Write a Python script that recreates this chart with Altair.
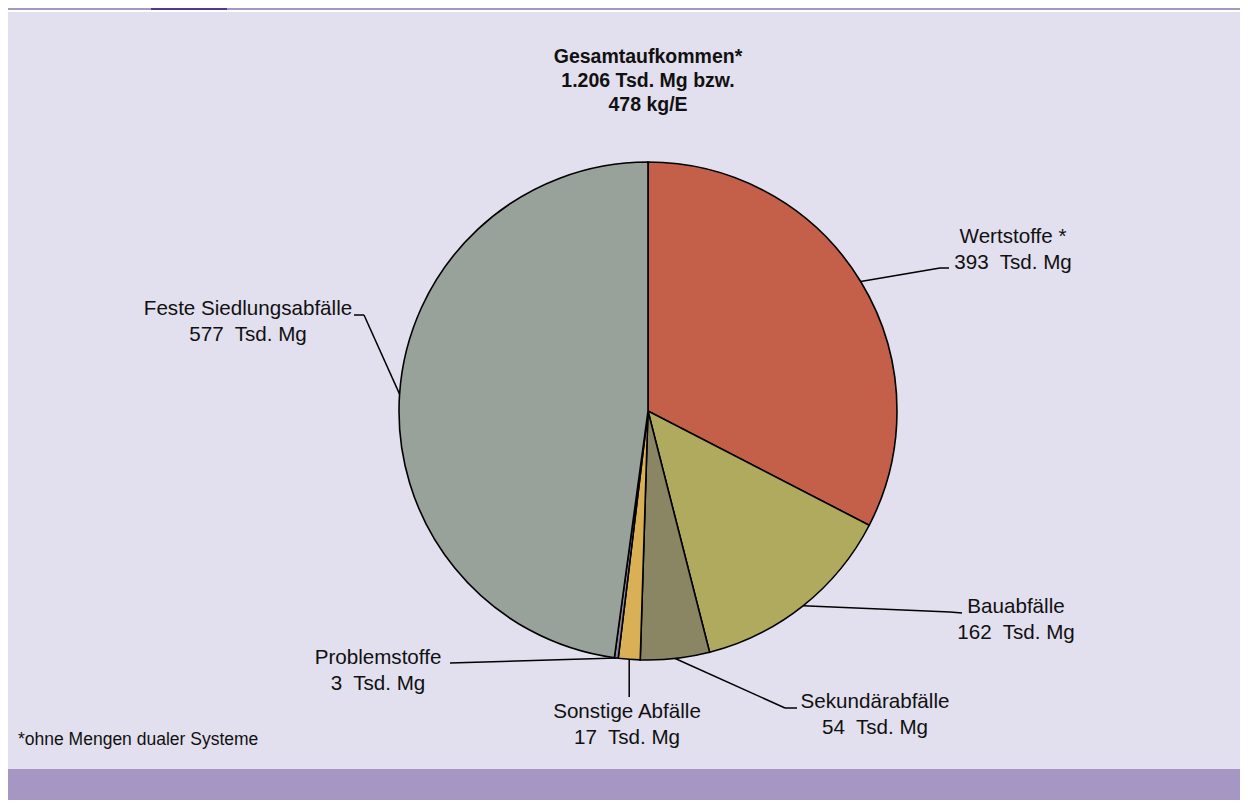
import altair as alt
import pandas as pd

# ---- data ----
categories = ["Wertstoffe *", "Bauabfälle", "Sekundärabfälle", "Sonstige Abfälle",
              "Problemstoffe", "Feste Siedlungsabfälle"]
values = [393, 162, 54, 17, 3, 577]
unit = "Tsd. Mg"
title_lines = ["Gesamtaufkommen*", "1.206 Tsd. Mg bzw.", "478 kg/E"]
footnote = "*ohne Mengen dualer Systeme"

# ---- styles / layout (chart pixel coordinates) ----
colors = ["#c4604a", "#b0aa5e", "#8a8562", "#d9b055", "#8e879f", "#98a29b"]
W, H = 1232, 792
CX, CY, R = 640, 403, 249
# leader elbow / end and label anchor (first-line baseline), per category
elbow_x = [932, 942, 777, None, 442, 356]
elbow_y = [260, 604, 700, 689, 655, 307]
end_x = [941, 954, 789, None, 442, 346]
end_y = [260, 605, 700, 689, 655, 307]
label_x = [1005, 1008, 867, 619, 370, 240]
label_y = [235, 605, 700, 710, 656, 307]
FONT = "Liberation Sans"
BG = "#e2dfee"
BAR = "#a696c3"

df = pd.DataFrame({
    "idx": list(range(len(categories))),
    "cat": categories,
    "value": values,
    "label": [f"{c}\n{v}\u00a0 {unit}" for c, v in zip(categories, values)],
    "ex": elbow_x, "ey": elbow_y, "tx": end_x, "ty": end_y,
    "lx": label_x, "ly": label_y,
})

base = alt.Chart(df).transform_joinaggregate(
    total="sum(value)"
).transform_window(
    cum="sum(value)", sort=[alt.SortField("idx", order="ascending")], frame=[None, 0]
).transform_calculate(
    mid="2*PI*(datum.cum - datum.value/2)/datum.total",
    ax=f"{CX} + {R}*sin(datum.mid)",
    ay=f"{CY} - {R}*cos(datum.mid)",
).transform_calculate(
    ex2="isValid(datum.ex) ? datum.ex : datum.ax",
    tx2="isValid(datum.tx) ? datum.tx : datum.ax",
)

pie = alt.Chart(df).mark_arc(radius=R, stroke="#000000", strokeWidth=1.6).encode(
    theta=alt.Theta("value:Q", stack=True),
    order=alt.Order("idx:Q", sort="ascending"),
    color=alt.Color("cat:N", scale=alt.Scale(domain=categories, range=colors), legend=None),
    x=alt.value(CX),
    y=alt.value(CY),
)

leader1 = base.mark_rule(color="#000000", strokeWidth=1.5).encode(
    x=alt.X("ax:Q", scale=None, axis=None),
    y=alt.Y("ay:Q", scale=None, axis=None),
    x2="ex2:Q",
    y2="ey:Q",
)
leader2 = base.mark_rule(color="#000000", strokeWidth=1.5).encode(
    x=alt.X("ex2:Q", scale=None, axis=None),
    y=alt.Y("ey:Q", scale=None, axis=None),
    x2="tx2:Q",
    y2="ty:Q",
)

labels = base.mark_text(
    font=FONT, fontSize=20.6, color="#111111", align="center", baseline="alphabetic",
    lineBreak="\n", lineHeight=25.5,
).encode(
    x=alt.X("lx:Q", scale=None, axis=None),
    y=alt.Y("ly:Q", scale=None, axis=None),
    text="label:N",
)

one = alt.Data(values=[{}])
title = alt.Chart(one).mark_text(
    font=FONT, fontSize=19.5, fontWeight="bold", color="#111111", align="center",
    baseline="alphabetic", lineHeight=24,
).encode(x=alt.value(CX), y=alt.value(55), text=alt.value(title_lines))

foot = alt.Chart(one).mark_text(
    font=FONT, fontSize=17.5, color="#111111", align="left", baseline="alphabetic",
).encode(x=alt.value(10), y=alt.value(737), text=alt.value(footnote))

bottom_bar = alt.Chart(one).mark_rect(color=BAR).encode(
    x=alt.value(0), x2=alt.value(W), y=alt.value(761), y2=alt.value(H))
top_bar = alt.Chart(one).mark_rect(color=BAR).encode(
    x=alt.value(0), x2=alt.value(W), y=alt.value(0), y2=alt.value(2))
top_sq = alt.Chart(one).mark_rect(color="#55378b").encode(
    x=alt.value(143), x2=alt.value(219), y=alt.value(0), y2=alt.value(2))
top_white = alt.Chart(one).mark_rect(color="#ffffff").encode(
    x=alt.value(0), x2=alt.value(W), y=alt.value(2), y2=alt.value(4))

chart = alt.layer(
    bottom_bar, top_bar, top_sq, top_white, pie, leader1, leader2, labels, title, foot
).properties(
    width=W, height=H, padding=0, autosize=alt.AutoSizeParams(type="none"),
    background=BG,
).configure_view(stroke=None)

chart.save("out.html", embed_options={"renderer": "svg", "actions": False})
